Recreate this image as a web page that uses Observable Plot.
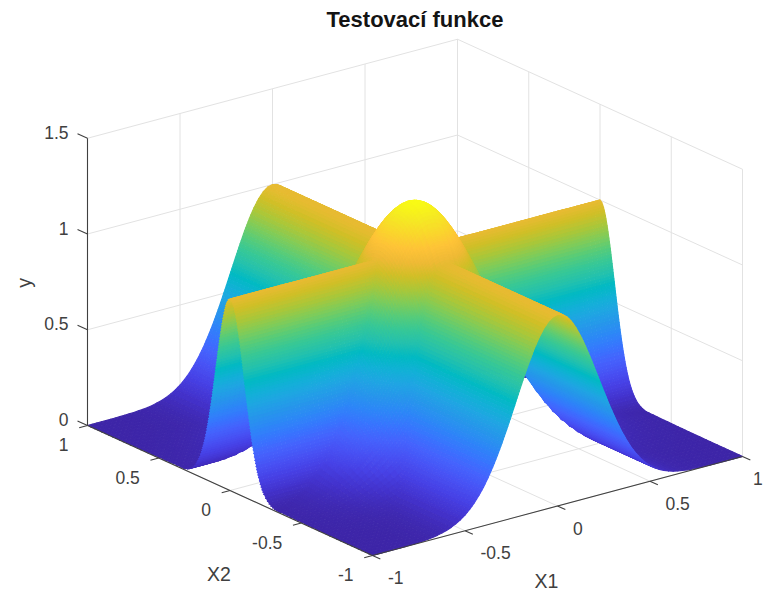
<!DOCTYPE html>
<html>
<head>
<meta charset="utf-8">
<script src="https://cdn.jsdelivr.net/npm/d3@7"></script>
<script src="https://cdn.jsdelivr.net/npm/@observablehq/plot@0.6"></script>
<style>html,body{margin:0;padding:0;background:#fff;overflow:hidden}svg{display:block}</style>
</head>
<body>
<div id="chart"></div>
<script>
const titleText = "Testovací funkce";
const axisTicks = [-1, -0.5, 0, 0.5, 1];
const heightTicks = [0, 0.5, 1, 1.5];

// heights read along the positive half of each input axis (the surface is mirror-symmetric)
const x1Half = [0,.025,.05,.075,.1,.125,.15,.175,.2,.225,.25,.275,.3,.325,.35,.375,.4,.425,.45,.475,.5,.525,.55,.575,.6,.625,.65,.675,.7,.725,.75,.775,.8,.825,.85,.875,.9,.925,.95,.975,1];
const ridge1Half = [1,.9938,.9753,.9453,.9048,.8553,.7985,.7362,.6703,.6028,.5353,.4694,.4066,.3478,.2938,.2450,.2019,.1643,.1320,.1048,.0821,.0635,.0486,.0367,.0273,.0201,.0146,.0105,.0074,.0052,.0036,.0025,.0017,.0011,.0007,.0005,.0003,.0002,.0001,.0001,0];
const dome1Half = [1,.9969,.9876,.9723,.9512,.9248,.8936,.8581,.8187,.7764,.7316,.6852,.6376,.5898,.5421,.4950,.4493,.4054,.3635,.3237,.2865,.2520,.2205,.1915,.1653,.1418,.1209,.1026,.0863,.0722,.0601,.0497,.0408,.0333,.0270,.0218,.0174,.0139,.0110,.0086,.0067];

const x2Half = [0,.0125,.025,.0375,.05,.0625,.075,.0875,.1,.1125,.125,.1375,.15,.1625,.175,.1875,.2,.2125,.225,.2375,.25,.2625,.275,.2875,.3,.3125,.325,.3375,.35,.375,.4,.425,.45,.475,.5,.525,.55,.575,.6,.625,.65,.675,.7,.725,.75,.775,.8,.825,.85,.875,.9,.925,.95,.975,1];
const ridge2Half = [1,.9922,.9692,.9321,.8825,.8226,.7548,.6819,.6065,.5311,.4578,.3886,.3247,.2670,.2163,.1724,.1353,.1046,.0796,.0596,.0439,.0319,.0228,.0160,.0111,.0076,.0051,.0034,.0022,.0009,.0003,.0001,0,0,0,0,0,0,0,0,0,0,0,0,0,0,0,0,0,0,0,0,0,0,0];
const dome2Half = [1,.9992,.9969,.9930,.9876,.9807,.9723,.9624,.9512,.9387,.9248,.9098,.8936,.8763,.8581,.8388,.8187,.7979,.7764,.7543,.7316,.7085,.6852,.6615,.6376,.6137,.5898,.5658,.5421,.4950,.4493,.4054,.3635,.3237,.2865,.2520,.2205,.1915,.1653,.1418,.1209,.1026,.0863,.0722,.0601,.0497,.0408,.0333,.0270,.0218,.0174,.0139,.0110,.0086,.0067];
const domePeak = 1.25;

const parula = ["#3e26a8","#4332cb","#4741e5","#4852f4","#4563fd","#3875fe","#2d87f7","#2796eb","#20a5e3","#12b1d6","#02bac3","#24c1ae","#37c897","#57cc7a","#80cc59","#abc739","#d1bf27","#efba36","#fec338","#fad62d","#f5e924","#f9fb15"];

// orthographic view of the data cube, as measured on the reference axes
const view = {cx: 414.5, cy: 440.5, ax: 185, ay: -49.5, bx: -142.5, by: -65, h: 191.5};
const px = (a, b, z) => view.cx + a * view.ax + b * view.bx;
const py = (a, b, z) => view.cy + a * view.ay + b * view.by - z * view.h;

const mirrored = (half) => [...half.map((_, i) => -i).reverse(), ...half.map((_, i) => i).slice(1)];
const rows1 = mirrored(x1Half), rows2 = mirrored(x2Half);
const coord1 = (k) => Math.sign(k) * x1Half[Math.abs(k)];
const coord2 = (k) => Math.sign(k) * x2Half[Math.abs(k)];
const height = (p, q) => {
  const i = Math.abs(p), j = Math.abs(q);
  return Math.max(ridge1Half[i], ridge2Half[j], domePeak * dome1Half[i] * dome2Half[j]);
};

// Mesh cells listed from the far corner to the near corner. Each cell is shaded
// across its four sampled heights (like MATLAB's "shading interp"), so steep cells
// are drawn as a few narrower colour strips.
const patches = [];
let id = 0;
const shadeStep = 0.018;
for (let p = rows1.length - 2; p >= 0; --p) {
  for (let q = rows2.length - 2; q >= 0; --q) {
    const a0 = coord1(rows1[p]), a1 = coord1(rows1[p + 1]);
    const b0 = coord2(rows2[q]), b1 = coord2(rows2[q + 1]);
    const z00 = height(rows1[p], rows2[q]), z10 = height(rows1[p + 1], rows2[q]);
    const z01 = height(rows1[p], rows2[q + 1]), z11 = height(rows1[p + 1], rows2[q + 1]);
    const nu = Math.min(6, Math.max(1, Math.ceil(Math.max(Math.abs(z10 - z00), Math.abs(z11 - z01)) / shadeStep)));
    const nv = Math.min(6, Math.max(1, Math.ceil(Math.max(Math.abs(z01 - z00), Math.abs(z11 - z10)) / shadeStep)));
    const at = (s, t) => ({
      a: a0 + (a1 - a0) * s, b: b0 + (b1 - b0) * t,
      z: z00 * (1 - s) * (1 - t) + z10 * s * (1 - t) + z01 * (1 - s) * t + z11 * s * t
    });
    for (let u = nu - 1; u >= 0; --u) {
      for (let w = nv - 1; w >= 0; --w) {
        const corners = [at(u / nu, w / nv), at((u + 1) / nu, w / nv), at((u + 1) / nu, (w + 1) / nv), at(u / nu, (w + 1) / nv)];
        const v = d3.mean(corners, (c) => c.z);
        for (const c of corners) patches.push({...c, id, v});
        ++id;
      }
    }
  }
}

const grid = [];
for (const t of axisTicks) {
  grid.push({s: [t, -1, 0], e: [t, 1, 0]});
  grid.push({s: [-1, t, 0], e: [1, t, 0]});
  grid.push({s: [t, 1, 0], e: [t, 1, 1.5]});
  grid.push({s: [1, t, 0], e: [1, t, 1.5]});
}
for (const z of heightTicks) {
  grid.push({s: [-1, 1, z], e: [1, 1, z]});
  grid.push({s: [1, -1, z], e: [1, 1, z]});
}
const spines = [
  {s: [-1, 1, 0], e: [-1, 1, 1.5]},
  {s: [-1, 1, 0], e: [-1, -1, 0]},
  {s: [-1, -1, 0], e: [1, -1, 0]},
  ...axisTicks.map((t) => ({s: [-1, t, 0], e: [-1.045, t, 0]})),
  ...axisTicks.map((t) => ({s: [t, -1, 0], e: [t, -1.055, 0]})),
  ...heightTicks.map((z) => ({s: [-1, 1, z], e: [-1, 1.07, z]}))
];
const seg = (o) => ({
  x1: (d) => px(...d.s), y1: (d) => py(...d.s),
  x2: (d) => px(...d.e), y2: (d) => py(...d.e), ...o
});

const font = "Liberation Sans, Arial, Helvetica, sans-serif";
const ink = "#404040";
const chart = Plot.plot({
  width: 764, height: 593,
  marginLeft: 0, marginRight: 0, marginTop: 0, marginBottom: 0,
  x: {domain: [0, 764], range: [0, 764], axis: null},
  y: {domain: [0, 593], range: [0, 593], axis: null},
  color: {type: "linear", domain: [0, domePeak], interpolate: d3.piecewise(d3.interpolateRgb, parula)},
  style: {fontFamily: font, background: "#fff"},
  marks: [
    Plot.link(grid, seg({stroke: "#e2e2e2", strokeWidth: 1})),
    Plot.line(patches, {
      x: (d) => px(d.a, d.b, d.z), y: (d) => py(d.a, d.b, d.z),
      z: "id", fill: "v", stroke: "v", strokeWidth: 1.1, strokeLinejoin: "round"
    }),
    Plot.link(spines, seg({stroke: ink, strokeWidth: 1.1})),
    Plot.text(heightTicks, {
      x: (z) => px(-1, 1, z), y: (z) => py(-1, 1, z), text: (z) => String(z),
      textAnchor: "end", dx: -19, dy: -5, fontSize: 17.5, fill: ink
    }),
    Plot.text(axisTicks, {
      x: (t) => px(-1, t, 0), y: (t) => py(-1, t, 0), text: (t) => String(t),
      textAnchor: "end", dx: -19, dy: 20, fontSize: 17.5, fill: ink
    }),
    Plot.text(axisTicks.filter((t) => t < 1), {
      x: (t) => px(t, -1, 0), y: (t) => py(t, -1, 0), text: (t) => String(t),
      textAnchor: "start", dx: 15.5, dy: 23, fontSize: 17.5, fill: ink
    }),
    Plot.text(axisTicks.filter((t) => t === 1), {
      x: (t) => px(t, -1, 0), y: (t) => py(t, -1, 0), text: (t) => String(t),
      textAnchor: "start", dx: 10.5, dy: 23, fontSize: 17.5, fill: ink
    }),
    Plot.text(["X2"], {x: () => px(-1, 0, 0), y: () => py(-1, 0, 0), dx: -11, dy: 84, fontSize: 19.5, fill: ink}),
    Plot.text(["X1"], {x: () => px(0, -1, 0), y: () => py(0, -1, 0), dx: -11, dy: 76, fontSize: 19.5, fill: ink}),
    Plot.text(["y"], {x: () => px(-1, 1, 0.75), y: () => py(-1, 1, 0.75), dx: -63, dy: 1, rotate: -90, fontSize: 19.5, fill: ink}),
    Plot.text([titleText], {x: () => px(0, 0, 0), y: () => py(0, 0, 2.2), dy: 0, fontSize: 22, fontWeight: "bold", fill: "#141414"})
  ]
});
document.getElementById("chart").append(chart);
</script>
</body>
</html>
